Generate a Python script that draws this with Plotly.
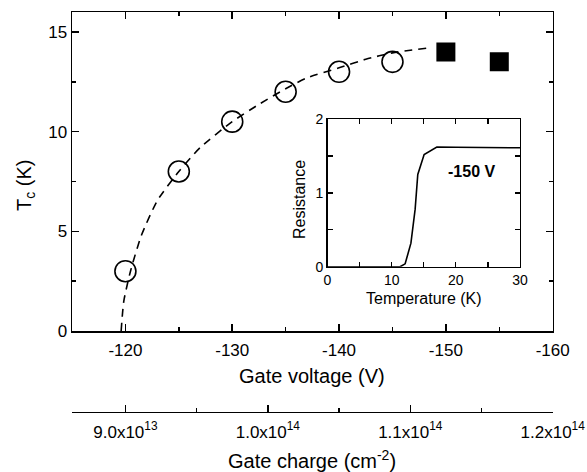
import plotly.graph_objects as go

# ---------------- data ----------------
# main panel: Tc vs gate voltage
circle_v = [-120, -125, -130, -135, -140, -145]
circle_tc = [3.0, 8.0, 10.5, 12.0, 13.0, 13.5]
square_v = [-150, -155]
square_tc = [14.0, 13.5]

# dashed guide curve
fit_v = [-119.6, -119.85, -120.5, -121.5, -123.0, -125.0, -127.0, -130.0,
         -132.6, -135.0, -137.0, -140.0, -142.5, -145.0, -148.4]
fit_tc = [0.0, 1.5, 3.05, 4.8, 6.55, 8.0, 9.2, 10.5,
          11.4, 12.15, 12.7, 13.2, 13.63, 13.95, 14.2]

voltage_ticks = [-120, -130, -140, -150, -160]
voltage_labels = ["-120", "-130", "-140", "-150", "-160"]
tc_ticks = [0, 5, 10, 15]

# secondary axis: gate charge
charge_ticks = [9.0e13, 1.0e14, 1.1e14, 1.2e14]
charge_minor = [9.5e13, 1.05e14, 1.15e14]
charge_labels = ["9.0x10<sup>13</sup>", "1.0x10<sup>14</sup>",
                 "1.1x10<sup>14</sup>", "1.2x10<sup>14</sup>"]
charge_range = [8.625e13, 1.2e14]

# inset: resistance vs temperature at -150 V
inset_t = [0, 5, 10, 11.3, 12.1, 13.0, 13.66, 14.07, 15.06, 17.04, 20, 25, 30]
inset_r = [0, 0, 0, 0, 0.04, 0.32, 0.78, 1.25, 1.52, 1.62, 1.618, 1.612, 1.61]

# ---------------- figure ----------------
W, H = 587, 472
FONT = "Liberation Sans, Arial, sans-serif"


def px_x(p):
    return p / W


def px_y(p):
    return (H - p) / H


fig = go.Figure()

fig.add_trace(go.Scatter(
    x=fit_v, y=fit_tc, mode="lines",
    line=dict(color="black", width=1.6, dash="8px,6px", shape="spline", smoothing=0.6),
    hoverinfo="skip", showlegend=False))

fig.add_trace(go.Scatter(
    x=circle_v, y=circle_tc, mode="markers",
    marker=dict(symbol="circle-open", size=21, color="black", line=dict(width=1.6)),
    showlegend=False))

fig.add_trace(go.Scatter(
    x=square_v, y=square_tc, mode="markers",
    marker=dict(symbol="square", size=19, color="black"),
    showlegend=False))

# invisible trace to carry the gate-charge axis
fig.add_trace(go.Scatter(
    x=charge_range, y=[0, 0], xaxis="x2", yaxis="y2",
    mode="markers", marker=dict(opacity=0), hoverinfo="skip", showlegend=False))

fig.add_trace(go.Scatter(
    x=inset_t, y=inset_r, xaxis="x3", yaxis="y3", mode="lines",
    line=dict(color="black", width=1.6), showlegend=False))

main_dom_x = [px_x(72), px_x(552.7)]
main_dom_y = [px_y(331), px_y(12)]

axis_common = dict(showgrid=False, zeroline=False, showline=True, linecolor="black",
                   linewidth=1.5, ticks="inside", tickcolor="black", tickwidth=1.5,
                   automargin=False,
                   tickfont=dict(family=FONT, size=17, color="black"))
inset_common = dict(showgrid=False, zeroline=False, showline=True, linecolor="black",
                    linewidth=1.3, ticks="inside", tickcolor="black", tickwidth=1.2,
                    automargin=False, mirror="ticks", ticklen=5,
                    tickfont=dict(family=FONT, size=14, color="black"))

fig.update_layout(
    width=W, height=H, autosize=False,
    margin=dict(l=0, r=0, t=0, b=0),
    paper_bgcolor="white", plot_bgcolor="white",
    font=dict(family=FONT, color="black"),
    hovermode=False,
    xaxis=dict(domain=main_dom_x, range=[-115, -160], anchor="y",
               tickmode="array", tickvals=voltage_ticks, ticktext=voltage_labels,
               ticklen=7, mirror="ticks", ticklabelstandoff=3, ticklabeloverflow="allow",
               minor=dict(tickmode="linear", tick0=-115, dtick=5, ticklen=4,
                          ticks="inside", tickcolor="black", tickwidth=1.5),
               **axis_common),
    yaxis=dict(domain=main_dom_y, range=[0, 16], anchor="x",
               tickmode="array", tickvals=tc_ticks, ticklen=7, mirror="ticks",
               minor=dict(tickmode="linear", tick0=0, dtick=2.5, ticklen=4,
                          ticks="inside", tickcolor="black", tickwidth=1.5),
               **axis_common),
    xaxis2=dict(domain=main_dom_x, range=charge_range, anchor="y2", side="bottom",
                tickmode="array", tickvals=charge_ticks, ticktext=charge_labels,
                ticklen=7, ticklabelstandoff=4, ticklabeloverflow="allow",
                minor=dict(tickmode="array", tickvals=charge_minor, ticklen=4,
                           ticks="inside", tickcolor="black", tickwidth=1.5),
                **axis_common),
    yaxis2=dict(domain=[px_y(411.7), px_y(410.7)], range=[-1, 1], anchor="x2",
                visible=False, automargin=False),
    xaxis3=dict(domain=[px_x(327.5), px_x(520)], range=[0, 30], anchor="y3",
                tickmode="array", tickvals=[0, 10, 20, 30],
                minor=dict(tickmode="array", tickvals=[5, 15, 25], ticklen=5,
                           ticks="inside", tickcolor="black", tickwidth=1.2),
                **inset_common),
    yaxis3=dict(domain=[px_y(266.8), px_y(119)], range=[0, 2], anchor="x3",
                tickmode="array", tickvals=[0, 1, 2],
                minor=dict(tickmode="array", tickvals=[0.5, 1.5], ticklen=5,
                           ticks="inside", tickcolor="black", tickwidth=1.2),
                **inset_common),
)

ann = [
    dict(text="Gate voltage (V)", x=px_x(312), y=px_y(376), size=20, angle=0),
    dict(text="Gate charge (cm<sup>-2</sup>)", x=px_x(312), y=px_y(459), size=20, angle=0),
    dict(text="T<sub>c</sub> (K)", x=px_x(26), y=px_y(186), size=20, angle=-90),
    dict(text="Resistance", x=px_x(299), y=px_y(200), size=16, angle=-90),
    dict(text="Temperature (K)", x=px_x(424), y=px_y(298), size=16, angle=0),
    dict(text="<b>-150 V</b>", x=px_x(471.7), y=px_y(171.7), size=16, angle=0),
]
for a in ann:
    fig.add_annotation(text=a["text"], x=a["x"], y=a["y"], xref="paper", yref="paper",
                       xanchor="center", yanchor="middle", showarrow=False,
                       textangle=a["angle"],
                       font=dict(family=FONT, size=a["size"], color="black"))

# remove the default page margin so the 587x472 figure fills the window exactly
fig.write_html("out.html",
               config={"displayModeBar": False, "staticPlot": True},
               post_script="document.body.style.margin='0';"
                           "document.body.style.overflow='hidden';")
